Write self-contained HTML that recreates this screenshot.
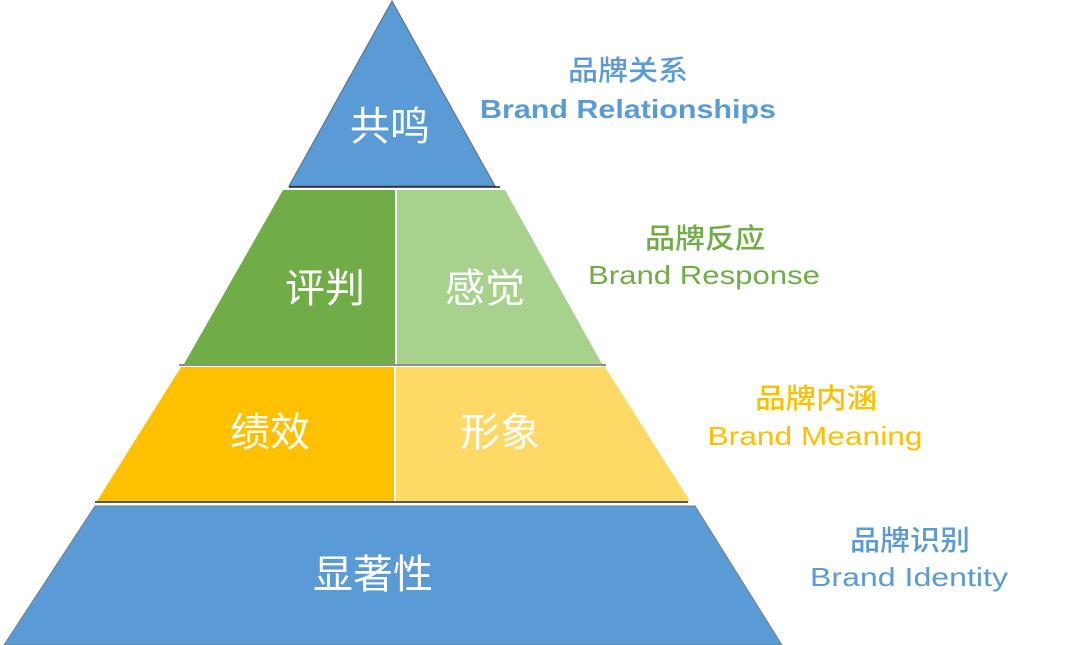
<!DOCTYPE html>
<html><head><meta charset="utf-8"><style>
html,body{margin:0;padding:0;background:#fff;}
svg{display:block;}
text{font-family:"Liberation Sans","Noto Sans CJK SC",sans-serif;}
</style></head><body>
<svg width="1080" height="645" viewBox="0 0 1080 645">
<polygon points="392,1 289,186 495,186" fill="#5b9bd5" stroke="#5a6f80" stroke-width="1"/>
<line x1="289" y1="187" x2="500" y2="187" stroke="#222" stroke-width="1.5"/>
<polygon points="283,190 395,190 395,364 184,364" fill="#70ad47"/>
<polygon points="397,190 505,190 602,364 397,364" fill="#a9d18e"/>
<line x1="179" y1="365" x2="606" y2="365" stroke="#222" stroke-width="1"/>
<polygon points="181,367 394,367 394,501 97,501" fill="#ffc000"/>
<polygon points="396,367 605,367 690,501 396,501" fill="#ffd966"/>
<line x1="95" y1="502" x2="688" y2="502" stroke="#222" stroke-width="1.5"/>
<polygon points="95,506 695,506 782,645 4,645" fill="#5b9bd5" stroke="#6f7f8c" stroke-width="1"/>
<g fill="#fff" font-size="40" text-anchor="middle">
<text x="390" y="140">共鸣</text>
<text x="325" y="302">评判</text>
<text x="485" y="302">感觉</text>
<text x="270" y="446">绩效</text>
<text x="500" y="446">形象</text>
<text x="373" y="588">显著性</text>
</g>
<g font-size="28" text-anchor="middle" font-weight="500">
<text x="628" y="80" fill="#5b9bd5" textLength="120" lengthAdjust="spacingAndGlyphs">品牌关系</text>
<text x="628" y="118" fill="#5b9bd5" font-weight="bold" font-size="26" textLength="296" lengthAdjust="spacingAndGlyphs">Brand Relationships</text>
<text x="705" y="248" fill="#70ad47" textLength="120" lengthAdjust="spacingAndGlyphs">品牌反应</text>
<text x="704" y="284" fill="#70ad47" font-size="26" textLength="232" lengthAdjust="spacingAndGlyphs">Brand Response</text>
<text x="816" y="408" fill="#ffc000" textLength="122" lengthAdjust="spacingAndGlyphs">品牌内涵</text>
<text x="815" y="445" fill="#ffc000" font-size="26" textLength="215" lengthAdjust="spacingAndGlyphs">Brand Meaning</text>
<text x="910" y="550" fill="#5b9bd5" textLength="120" lengthAdjust="spacingAndGlyphs">品牌识别</text>
<text x="909" y="586" fill="#5b9bd5" font-size="26" textLength="198" lengthAdjust="spacingAndGlyphs">Brand Identity</text>
</g>
</svg>
</body></html>
